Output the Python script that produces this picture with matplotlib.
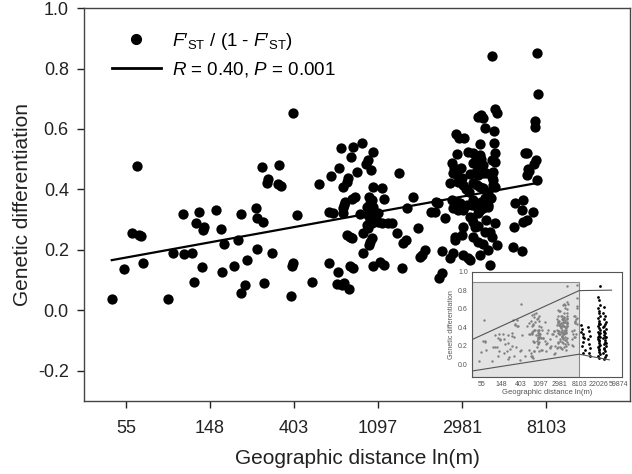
import numpy as np
import matplotlib
matplotlib.use("Agg")
import matplotlib.pyplot as plt
from matplotlib.lines import Line2D
from matplotlib.patches import Rectangle

plt.rcParams['font.family'] = ['Liberation Sans', 'DejaVu Sans']
plt.rcParams['mathtext.fontset'] = 'custom'
plt.rcParams['mathtext.rm'] = 'Liberation Sans'
plt.rcParams['mathtext.it'] = 'Liberation Sans:italic'

# ln(distance in m) and F'ST/(1-F'ST)
dist_ln = [
    3.83, 3.98, 4.07, 4.15, 4.18, 4.20, 4.13, 4.50, 4.56, 4.69, 4.79, 4.81, 4.90, 4.92,
    4.68, 4.83, 4.87, 4.93, 5.07, 5.13, 5.14, 5.17, 5.29, 5.33, 5.37, 5.42, 5.44, 5.56,
    5.64, 5.74, 5.37, 5.55, 5.56, 5.63, 5.62, 5.68, 5.69, 5.82, 5.81, 5.85, 5.99, 6.04,
    5.96, 5.98, 5.99, 6.21, 6.30,
    6.44, 6.42, 6.42, 6.56, 6.70, 6.81, 6.68, 6.94, 6.88, 6.86, 6.92, 6.54, 6.75, 6.64,
    6.63, 6.58, 7.25, 6.94, 7.05, 7.42, 6.89, 6.93, 6.90, 6.73, 6.69, 7.07, 6.61, 6.60,
    6.58, 6.87, 6.94, 6.46, 6.58, 6.79, 6.88, 6.96, 7.00, 7.35, 6.90, 6.93, 6.87, 6.88,
    7.00, 7.05, 7.12, 7.17, 7.48, 7.23, 6.63, 6.67, 6.69, 6.82, 6.93, 6.90, 6.89, 7.33,
    7.30, 6.82, 7.50, 6.52, 6.67, 6.70, 6.94, 7.02, 7.07, 7.29, 6.51, 6.57, 6.60, 6.65,
    8.36, 8.89, 8.90, 8.87, 8.87, 8.19, 8.23, 8.25, 8.39, 8.42, 8.27, 8.38, 7.93, 7.96,
    8.02, 8.21, 8.38, 8.75, 8.77, 7.94, 8.07, 8.13, 8.21, 8.39, 8.36, 8.39, 8.88, 8.86,
    7.88, 7.90, 8.13, 8.18, 8.25, 8.80, 8.77, 7.89, 7.94, 8.00, 8.15, 8.19, 8.25, 8.29,
    8.37, 8.89, 7.86, 7.95, 8.01, 8.13, 8.18, 8.21, 8.25, 8.37, 8.37, 8.08, 7.69, 7.71,
    7.63, 7.68, 7.80, 7.88, 7.94, 7.98, 7.89, 7.95, 8.01, 8.13, 8.12, 8.18, 8.21, 8.19,
    8.25, 8.31, 8.39, 8.63, 8.73, 8.71, 8.85, 8.62, 8.73, 8.77, 8.12, 8.13, 8.15, 8.01,
    8.27, 8.36, 7.92, 8.00, 7.92, 8.13, 8.19, 7.56, 7.52, 7.76, 7.89, 7.86, 8.01, 8.07,
    8.10, 8.21, 7.76, 7.73, 8.42, 8.61, 8.71, 8.33, 8.36, 8.39, 8.31, 8.79,
    8.27, 8.31, 8.23, 8.29, 8.33, 8.19, 8.25, 8.31, 8.05, 8.09, 8.16, 8.23, 8.10, 8.35,
    7.99, 8.06,
]
fst_ratio = [
    0.036, 0.136, 0.255, 0.250, 0.245, 0.156, 0.478, 0.036, 0.189, 0.186, 0.189, 0.093, 0.143, 0.265,
    0.318, 0.289, 0.325, 0.275, 0.332, 0.268, 0.126, 0.219, 0.146, 0.232, 0.056, 0.083, 0.166, 0.202,
    0.090, 0.189, 0.318, 0.338, 0.305, 0.292, 0.474, 0.421, 0.434, 0.481, 0.418, 0.411, 0.653, 0.315,
    0.046, 0.146, 0.156, 0.093, 0.418,
    0.444, 0.325, 0.156, 0.537, 0.541, 0.554, 0.507, 0.524, 0.498, 0.484, 0.464, 0.471, 0.458, 0.438,
    0.425, 0.408, 0.454, 0.408, 0.405, 0.375, 0.375, 0.365, 0.355, 0.375, 0.368, 0.368, 0.358, 0.348,
    0.338, 0.342, 0.342, 0.322, 0.322, 0.318, 0.315, 0.315, 0.322, 0.338, 0.299, 0.289, 0.282, 0.272,
    0.292, 0.289, 0.289, 0.289, 0.272, 0.255, 0.249, 0.242, 0.239, 0.255, 0.239, 0.226, 0.216, 0.232,
    0.222, 0.189, 0.176, 0.126, 0.146, 0.139, 0.146, 0.159, 0.149, 0.139, 0.086, 0.083, 0.090, 0.070,
    0.842, 0.852, 0.716, 0.627, 0.607, 0.640, 0.647, 0.637, 0.667, 0.653, 0.604, 0.594, 0.584, 0.570,
    0.570, 0.551, 0.554, 0.521, 0.521, 0.517, 0.524, 0.521, 0.514, 0.521, 0.498, 0.491, 0.498, 0.484,
    0.488, 0.471, 0.488, 0.481, 0.481, 0.461, 0.448, 0.454, 0.448, 0.438, 0.454, 0.448, 0.454, 0.454,
    0.458, 0.431, 0.421, 0.425, 0.415, 0.421, 0.415, 0.408, 0.405, 0.431, 0.415, 0.391, 0.358, 0.355,
    0.325, 0.325, 0.305, 0.365, 0.358, 0.355, 0.338, 0.332, 0.332, 0.365, 0.348, 0.342, 0.332, 0.322,
    0.338, 0.342, 0.289, 0.355, 0.365, 0.332, 0.325, 0.275, 0.292, 0.299, 0.305, 0.292, 0.275, 0.275,
    0.259, 0.242, 0.242, 0.249, 0.232, 0.242, 0.226, 0.199, 0.182, 0.196, 0.189, 0.172, 0.182, 0.172,
    0.166, 0.182, 0.123, 0.106, 0.216, 0.209, 0.196, 0.149, 0.441, 0.408, 0.348, 0.468,
    0.370, 0.390, 0.360, 0.300, 0.260, 0.280, 0.220, 0.200, 0.400, 0.450, 0.500, 0.500, 0.310, 0.370,
    0.470, 0.350,
]

# regression line (R = 0.40, P = 0.001)
fit_slope = 0.0504
fit_intercept = -0.027

# inset: extra long-distance pairs shown in black
far_ln = [
    9.10, 9.15, 9.12, 9.20, 9.18, 9.25, 9.22, 9.15, 9.28, 9.20,
    9.45, 9.50, 9.55, 9.48, 9.52, 9.58, 9.50, 9.55,
    10.05, 9.98, 10.02, 10.08, 9.96, 10.04, 10.00, 10.06, 9.98, 10.03, 10.01, 10.07,
    9.97, 10.02, 10.05, 9.99, 10.04, 10.00, 10.06, 9.98, 10.03, 10.01, 10.05, 9.99,
    10.02, 10.04, 10.00, 10.06, 9.97, 10.03, 10.01, 10.05, 10.02, 9.99, 10.04,
    10.30, 10.25, 10.35, 10.28, 10.40, 10.32, 10.22, 10.38, 10.27, 10.33, 10.29,
    10.36, 10.24, 10.31, 10.34, 10.26, 10.39, 10.30, 10.28, 10.35, 10.23, 10.37,
    10.32, 10.27, 10.33, 10.30, 10.26, 10.36,
]
far_fst = [
    0.42, 0.38, 0.35, 0.33, 0.30, 0.28, 0.24, 0.20, 0.15, 0.12,
    0.40, 0.36, 0.31, 0.27, 0.22, 0.18, 0.12, 0.09,
    0.85, 0.73, 0.69, 0.64, 0.61, 0.58, 0.55, 0.52, 0.50, 0.47, 0.45, 0.43,
    0.41, 0.39, 0.37, 0.35, 0.33, 0.31, 0.29, 0.27, 0.25, 0.23, 0.21, 0.19,
    0.17, 0.15, 0.13, 0.11, 0.09, 0.07, 0.26, 0.34, 0.44, 0.30, 0.20,
    0.62, 0.55, 0.52, 0.49, 0.46, 0.43, 0.40, 0.38, 0.36, 0.34, 0.32,
    0.30, 0.28, 0.26, 0.24, 0.22, 0.20, 0.18, 0.16, 0.14, 0.12, 0.10,
    0.08, 0.06, 0.29, 0.35, 0.41, 0.23,
]

tick_ln = [4, 5, 6, 7, 8, 9]
tick_labels = ['55', '148', '403', '1097', '2981', '8103']
inset_tick_ln = [4, 5, 6, 7, 8, 9, 10, 11]
inset_tick_labels = ['55', '148', '403', '1097', '2981', '8103', '22026', '59874']

fig = plt.figure(figsize=(6.32, 4.74), dpi=100)
ax = fig.add_axes([0.133, 0.154, 0.864, 0.829])

ax.scatter(dist_ln, fst_ratio, s=55, color='black', linewidths=0, zorder=3)
xl = np.array([min(dist_ln), max(dist_ln)])
ax.plot(xl, fit_intercept + fit_slope * xl, color='black', lw=1.6, zorder=2)

ax.set_xlim(3.5, 10.0)
ax.set_ylim(-0.3, 1.0)
ax.set_xticks(tick_ln)
ax.set_xticklabels(tick_labels)
ax.set_yticks([-0.2, 0.0, 0.2, 0.4, 0.6, 0.8, 1.0])
ax.set_yticklabels(['-0.2', '0.0', '0.2', '0.4', '0.6', '0.8', '1.0'])
ax.tick_params(direction='out', length=5, width=1, labelsize=13, colors='#222222', pad=6)
ax.tick_params(axis='x', pad=9)
for sp in ax.spines.values():
    sp.set_color('#444444')
    sp.set_linewidth(1)
ax.set_xlabel('Geographic distance ln(m)', fontsize=15, color='#222222', labelpad=8)
ax.set_ylabel('Genetic differentiation', fontsize=15, color='#222222', labelpad=4)

handles = [
    Line2D([], [], marker='o', ls='none', color='black', markersize=7),
    Line2D([], [], color='black', lw=2),
]
labels = [r"$F{\prime}_{\mathrm{ST}}$ / (1 - $F{\prime}_{\mathrm{ST}}$)", r"$R$ = 0.40, $P$ = 0.001"]
ax.legend(handles, labels, loc='upper left', bbox_to_anchor=(0.02, 0.985), frameon=False,
          fontsize=13.5, handlelength=2.6, handletextpad=0.6, labelspacing=0.45)

# inset
ins = fig.add_axes([0.747, 0.205, 0.237, 0.222])
ins.add_patch(Rectangle((3.5, -0.135), 5.5, 1.02, facecolor='#e3e3e3', edgecolor='#8a8a8a',
                        lw=0.8, zorder=0))
ins.scatter(dist_ln, fst_ratio, s=3, color='#808080', linewidths=0, zorder=2)
ins.scatter(far_ln, far_fst, s=4, color='black', linewidths=0, zorder=2)
ins.plot([3.5, 9.0, 10.67], [0.267, 0.795, 0.80], color='#555555', lw=0.8, zorder=3)
ins.plot([3.5, 9.0, 10.56], [-0.072, 0.109, 0.048], color='#555555', lw=0.8, zorder=3)
ins.set_xlim(3.5, 11.2)
ins.set_ylim(-0.135, 1.0)
ins.set_xticks(inset_tick_ln)
ins.set_xticklabels(inset_tick_labels)
ins.set_yticks([0.0, 0.2, 0.4, 0.6, 0.8, 1.0])
ins.set_yticklabels(['0.0', '0.2', '0.4', '0.6', '0.8', '1.0'])
ins.tick_params(length=0, labelsize=5, colors='#555555', pad=3)
for sp in ins.spines.values():
    sp.set_color('#555555')
    sp.set_linewidth(0.8)
ins.set_xlabel('Geographic distance ln(m)', fontsize=5.5, color='#555555', labelpad=1)
ins.set_ylabel('Genetic differentiation', fontsize=5, color='#555555', labelpad=2)

fig.savefig('out.png', dpi=100)
